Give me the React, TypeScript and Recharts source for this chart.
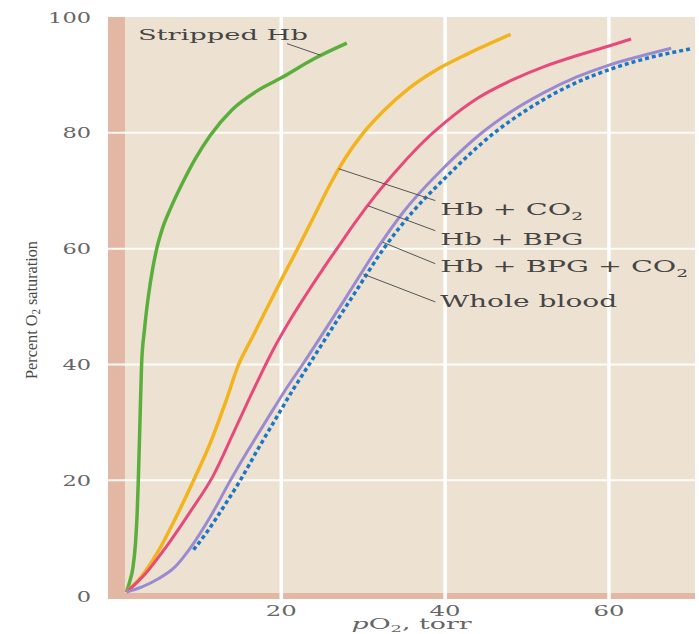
import React from "react";
import { LineChart, Line, XAxis, YAxis, ReferenceArea, ReferenceLine, ReferenceDot } from "recharts";

// pO2 (torr) vs percent O2 saturation
const strippedHb = [
  { x: 1.1, y: 0.7 }, { x: 1.5, y: 2.5 }, { x: 1.9, y: 5 }, { x: 2.2, y: 9 }, { x: 2.4, y: 14 },
  { x: 2.55, y: 20 }, { x: 2.75, y: 30 }, { x: 2.95, y: 40 }, { x: 3.3, y: 46 }, { x: 3.8, y: 52 },
  { x: 4.3, y: 56.5 }, { x: 4.8, y: 60 }, { x: 5.5, y: 63.5 }, { x: 6.5, y: 67 }, { x: 8, y: 71.5 },
  { x: 9.5, y: 75.5 }, { x: 11.3, y: 79.5 }, { x: 14, y: 84 }, { x: 17, y: 87.2 }, { x: 20, y: 89.5 },
  { x: 24, y: 92.8 }, { x: 28, y: 95.5 },
];
const hbCO2 = [
  { x: 1.1, y: 0.7 }, { x: 3, y: 3.5 }, { x: 5, y: 7.8 }, { x: 7, y: 13.2 }, { x: 9.3, y: 20 },
  { x: 11.5, y: 27 }, { x: 13.2, y: 33.5 }, { x: 14.8, y: 40 }, { x: 16.5, y: 44.8 }, { x: 18.5, y: 50.4 },
  { x: 20, y: 54.6 }, { x: 22, y: 60 }, { x: 24, y: 65.6 }, { x: 26, y: 71.2 }, { x: 27.8, y: 75.6 },
  { x: 29.8, y: 79.6 }, { x: 32.5, y: 83.8 }, { x: 35.5, y: 87.6 }, { x: 38.6, y: 90.6 }, { x: 42.7, y: 93.6 },
  { x: 48, y: 97 },
];
const hbBPG = [
  { x: 1.1, y: 0.7 }, { x: 3.5, y: 4 }, { x: 6, y: 8.6 }, { x: 9, y: 14.8 }, { x: 11.7, y: 20.8 },
  { x: 14.2, y: 28.3 }, { x: 16.6, y: 35.6 }, { x: 19, y: 42.5 }, { x: 21, y: 47.5 }, { x: 23, y: 52 },
  { x: 25, y: 56.3 }, { x: 26.8, y: 60 }, { x: 29, y: 64.5 }, { x: 31.5, y: 69.2 }, { x: 34.5, y: 74.2 },
  { x: 37.6, y: 78.8 }, { x: 40, y: 81.8 }, { x: 44, y: 86 }, { x: 48, y: 89 }, { x: 52, y: 91.4 },
  { x: 56, y: 93.3 }, { x: 60, y: 95 }, { x: 62.7, y: 96.2 },
];
const hbBPGCO2 = [
  { x: 1.1, y: 0.7 }, { x: 3, y: 1.6 }, { x: 5, y: 3 }, { x: 7, y: 5 }, { x: 9, y: 8.5 },
  { x: 11.3, y: 13.6 }, { x: 13.8, y: 20 }, { x: 16, y: 25.3 }, { x: 18.3, y: 30.6 }, { x: 20.5, y: 35.6 },
  { x: 22.6, y: 40 }, { x: 25, y: 45.2 }, { x: 28, y: 51.8 }, { x: 31.7, y: 60 }, { x: 35, y: 66.5 },
  { x: 40, y: 74.2 }, { x: 44.3, y: 79.8 }, { x: 48, y: 83.6 }, { x: 52, y: 86.9 }, { x: 56, y: 89.6 },
  { x: 60, y: 91.7 }, { x: 64, y: 93.3 }, { x: 67.6, y: 94.6 },
];
const wholeBlood = [
  { x: 9.3, y: 8 }, { x: 11, y: 11.2 }, { x: 13, y: 15.5 }, { x: 15, y: 20 }, { x: 17.2, y: 25.5 },
  { x: 19.4, y: 30.8 }, { x: 21.5, y: 35.8 }, { x: 23.4, y: 40 }, { x: 26, y: 45.8 }, { x: 29, y: 52.4 },
  { x: 32.5, y: 60 }, { x: 36, y: 66.3 }, { x: 40, y: 72.2 }, { x: 46, y: 80 }, { x: 50, y: 84 },
  { x: 55, y: 88 }, { x: 60, y: 90.9 }, { x: 65, y: 93 }, { x: 70, y: 94.5 },
];

const xTicks = [20, 40, 60];
const yTicks = [0, 20, 40, 60, 80, 100];

const X_DOMAIN: [number, number] = [-1.15, 70.5];
const Y_DOMAIN: [number, number] = [-0.5, 100];

const BG = "#ede2d2";
const BAND = "#e2b8a4";
const SERIF = "'DejaVu Serif', serif";
const TEXT = "#454545";

type Part = { t: string; sub?: boolean };

function Stretch({ x, y, parts, size, width, anchor = "start", fill = TEXT }: any) {
  const shift = size * 0.32;
  return (
    <text
      x={x}
      y={y}
      fontFamily={SERIF}
      fontSize={size}
      fill={fill}
      textAnchor={anchor}
      textLength={width}
      lengthAdjust="spacingAndGlyphs"
    >
      {parts.map((p: Part, i: number) => {
        const prevSub = i > 0 && parts[i - 1].sub;
        const dy = p.sub ? shift : prevSub ? -shift : 0;
        return (
          <tspan key={i} dy={dy} fontSize={p.sub ? size * 0.65 : size}>
            {p.t}
          </tspan>
        );
      })}
    </text>
  );
}

const annotations = [
  { parts: [{ t: "Stripped Hb" }], at: { x: 2.5, y: 96.0 }, width: 170, size: 15, lead: [{ x: 20.7, y: 95.4 }, { x: 24.8, y: 93.4 }] },
  { parts: [{ t: "Hb + CO" }, { t: "2", sub: true }], at: { x: 39.4, y: 65.8 }, width: 143, size: 17, lead: [{ x: 27.0, y: 73.8 }, { x: 38.8, y: 68.3 }] },
  { parts: [{ t: "Hb + BPG" }], at: { x: 39.4, y: 60.6 }, width: 143, size: 17, lead: [{ x: 30.6, y: 67.4 }, { x: 38.8, y: 63.1 }] },
  { parts: [{ t: "Hb + BPG + CO" }, { t: "2", sub: true }], at: { x: 39.4, y: 56.0 }, width: 248, size: 17, lead: [{ x: 32.4, y: 61.1 }, { x: 38.8, y: 57.4 }] },
  { parts: [{ t: "Whole blood" }], at: { x: 39.4, y: 49.9 }, width: 177, size: 17, lead: [{ x: 30.0, y: 55.6 }, { x: 38.8, y: 50.8 }] },
];

function YTick({ x, y, payload }: any) {
  const s = String(payload.value);
  return <Stretch x={x} y={y + 5.5} parts={[{ t: s }]} size={15} width={s.length * 14.3} anchor="end" fill="#666" />;
}

function XTick({ x, y, payload }: any) {
  const s = String(payload.value);
  return <Stretch x={x} y={y + 17} parts={[{ t: s }]} size={15} width={s.length * 15.5} anchor="middle" fill="#666" />;
}

export default function App() {
  return (
    <div style={{ width: 699, height: 634, background: "#fff" }}>
      <style>{"body{margin:0}"}</style>
      <LineChart width={699} height={634} margin={{ top: 17, right: 4, bottom: 0, left: 0 }}>
        <XAxis
          type="number"
          dataKey="x"
          domain={X_DOMAIN}
          ticks={xTicks}
          axisLine={false}
          tickLine={false}
          tickSize={0}
          tickMargin={0}
          height={35}
          tick={<XTick />}
          allowDataOverflow
          label={{
            content: ({ viewBox }: any) => (
              <text
                x={viewBox.x + viewBox.width / 2 + 10}
                y={viewBox.y + 30}
                fontFamily={SERIF}
                fontSize={15}
                fill="#666"
                textAnchor="middle"
                textLength={120}
                lengthAdjust="spacingAndGlyphs"
              >
                <tspan fontStyle="italic">p</tspan>
                <tspan>O</tspan>
                <tspan fontSize={10} dy={3}>2</tspan>
                <tspan dy={-3}>, torr</tspan>
              </text>
            ),
          }}
        />
        <YAxis
          type="number"
          dataKey="y"
          domain={Y_DOMAIN}
          ticks={yTicks}
          axisLine={false}
          tickLine={false}
          tickSize={0}
          tickMargin={17}
          width={108}
          tick={<YTick />}
          allowDataOverflow
          label={{
            content: ({ viewBox }: any) => (
              <text
                transform={`translate(${viewBox.x + 37},${viewBox.y + viewBox.height / 2 + 2}) rotate(-90)`}
                fontFamily="'Liberation Serif', serif"
                fontSize={17}
                fill="#4a4a4a"
                textAnchor="middle"
                textLength={138}
                lengthAdjust="spacingAndGlyphs"
              >
                Percent O<tspan fontSize={11.5} dy={3}>2</tspan>
                <tspan dy={-3}> saturation</tspan>
              </text>
            ),
          }}
        />

        <ReferenceArea x1={X_DOMAIN[0]} x2={X_DOMAIN[1]} y1={Y_DOMAIN[0]} y2={Y_DOMAIN[1]} fill={BG} fillOpacity={1} stroke="none" />
        <ReferenceArea x1={X_DOMAIN[0]} x2={0.92} y1={Y_DOMAIN[0]} y2={Y_DOMAIN[1]} fill={BAND} fillOpacity={1} stroke="none" />
        <ReferenceArea x1={X_DOMAIN[0]} x2={X_DOMAIN[1]} y1={Y_DOMAIN[0]} y2={0.52} fill={BAND} fillOpacity={1} stroke="none" />

        {yTicks.slice(1, 5).map((v) => (
          <ReferenceLine key={"h" + v} y={v} stroke="#fff" strokeWidth={2} strokeOpacity={0.9} />
        ))}
        {xTicks.map((v) => (
          <ReferenceLine key={"v" + v} x={v} stroke="#fff" strokeWidth={3.5} />
        ))}

        <Line data={strippedHb} dataKey="y" type="monotone" stroke="#5aae3c" strokeWidth={3.5} dot={false} isAnimationActive={false} />
        <Line data={hbCO2} dataKey="y" type="monotone" stroke="#f3b31c" strokeWidth={3.5} dot={false} isAnimationActive={false} />
        <Line data={hbBPG} dataKey="y" type="monotone" stroke="#e8497b" strokeWidth={3} dot={false} isAnimationActive={false} />
        <Line data={hbBPGCO2} dataKey="y" type="monotone" stroke="#9a8bd0" strokeWidth={3} dot={false} isAnimationActive={false} />
        <Line data={wholeBlood} dataKey="y" type="monotone" stroke="#1c76c6" strokeWidth={3.5} strokeDasharray="4 3" dot={false} isAnimationActive={false} />

        {annotations.map((a, i) => (
          <ReferenceLine key={"l" + i} segment={a.lead} stroke="#555" strokeWidth={1} />
        ))}
        {annotations.map((a, i) => (
          <ReferenceDot
            key={"t" + i}
            x={a.at.x}
            y={a.at.y}
            r={1}
            ifOverflow="visible"
            shape={(p: any) => <Stretch x={p.cx} y={p.cy} parts={a.parts} size={a.size} width={a.width} />}
          />
        ))}
      </LineChart>
    </div>
  );
}
